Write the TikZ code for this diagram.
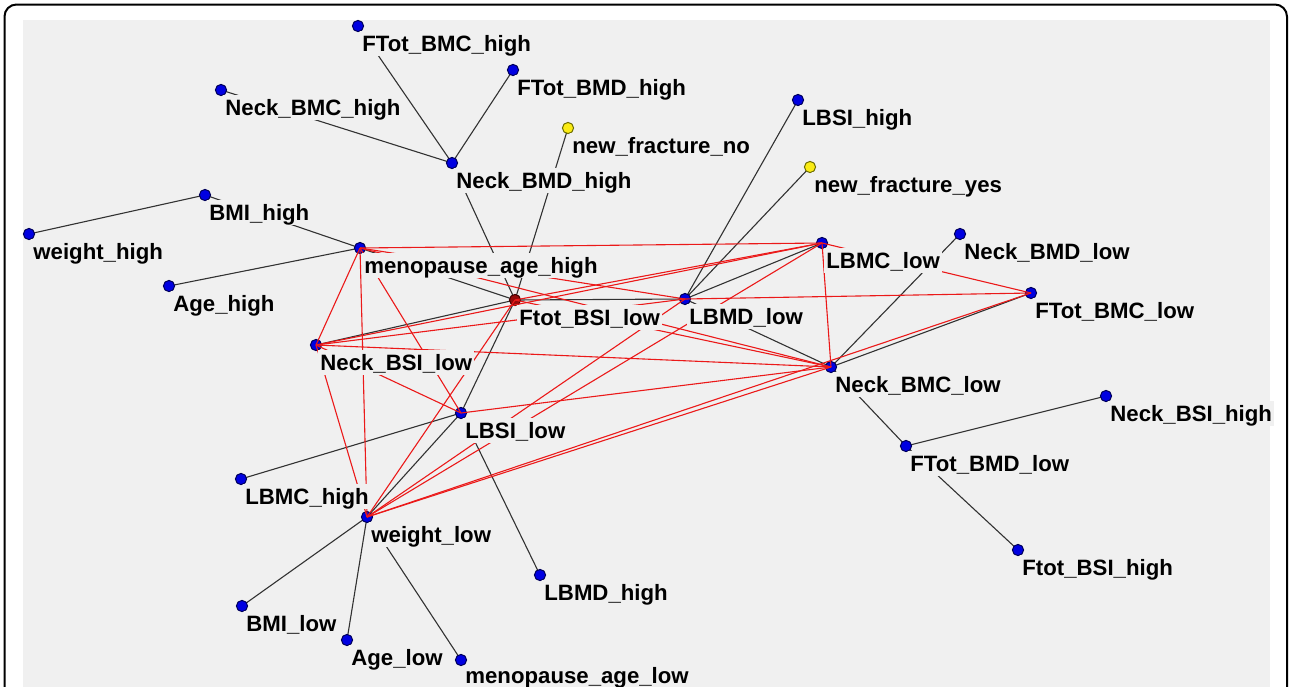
\documentclass[tikz,border=0pt]{standalone}
\usepackage{fontspec}
\setmainfont{Liberation Sans}
\pgfdeclarelayer{edges}
\pgfdeclarelayer{backdrop}
\pgfsetlayers{backdrop,edges,main}
\definecolor{bgray}{RGB}{240,240,240}
\begin{document}
\begin{tikzpicture}[x=0.5pt,y=-0.5pt,
  dot/.style={circle,inner sep=0pt,minimum size=5.6pt,line width=0.5pt,
    draw={rgb,255:red,0;green,0;blue,90},fill={rgb,255:red,0;green,0;blue,225}},
  ydot/.style={dot,draw={rgb,255:red,110;green,110;blue,0},fill={rgb,255:red,250;green,235;blue,20}},
  rdot/.style={dot,draw={rgb,255:red,70;green,0;blue,0},fill={rgb,255:red,150;green,10;blue,10}},
  lbl/.style={anchor=base west,fill=bgray,inner xsep=1pt,inner ysep=0pt,
    text height=10pt,text depth=2.4pt,font=\fontsize{11.1}{13}\selectfont\bfseries},
  blk/.style={draw={rgb,255:red,50;green,50;blue,50},line width=0.55pt},
  redge/.style={draw={rgb,255:red,235;green,25;blue,25},line width=0.55pt}]
\useasboundingbox (0,0) rectangle (1290,686);
\clip (0,0) rectangle (1290,686);

% frame and plotting area
\begin{pgfonlayer}{backdrop}
  \fill[white] (0,0) rectangle (1290,686);
  \draw[line width=1pt,rounded corners=6pt] (4.5,4.5) rectangle (1287,740);
  \fill[bgray] (23,20) rectangle (1270,700);
\end{pgfonlayer}

% vertices
\node[dot]  (ftbmch) at (358,26) {};
\node[dot]  (ftbmdh) at (513,70) {};
\node[dot]  (nbmch)  at (221,90) {};
\node[ydot] (nfno)   at (568,128) {};
\node[dot]  (nbmdh)  at (452,163) {};
\node[dot]  (lbsih)  at (798,100) {};
\node[ydot] (nfyes)  at (810,167) {};
\node[dot]  (bmih)   at (205,195) {};
\node[dot]  (wh)     at (29,234) {};
\node[dot]  (mah)    at (360,248) {};
\node[dot]  (ageh)   at (169,286) {};
\node[dot]  (nbsil)  at (316,345) {};
\node[rdot] (fbsil)  at (515,300) {};
\node[dot]  (lbmdl)  at (685,299) {};
\node[dot]  (lbmcl)  at (822,243) {};
\node[dot]  (nbmdl)  at (960,234) {};
\node[dot]  (ftbmcl) at (1031,293) {};
\node[dot]  (nbmcl)  at (831,367) {};
\node[dot]  (lbsil)  at (461,413) {};
\node[dot]  (nbsih)  at (1106,396) {};
\node[dot]  (ftbmdl) at (906,446) {};
\node[dot]  (lbmch)  at (241,479) {};
\node[dot]  (wl)     at (367,517) {};
\node[dot]  (lbmdh)  at (540,575) {};
\node[dot]  (fbsih)  at (1018,550) {};
\node[dot]  (bmil)   at (242,606) {};
\node[dot]  (agel)   at (347,640) {};
\node[dot]  (mal)    at (461,660) {};

% black edges, behind the vertices
\begin{pgfonlayer}{edges}
\foreach \a/\b in {ftbmch/nbmdh, ftbmdh/nbmdh, nbmch/nbmdh, nbmdh/fbsil, nfno/fbsil,
  bmih/wh, bmih/mah, ageh/mah, mah/fbsil, nbsil/fbsil, fbsil/lbmdl, fbsil/lbsil,
  lbsil/wl, lbmch/lbsil, lbsil/lbmdh, lbsih/lbmdl, nfyes/lbmdl, lbmdl/lbmcl,
  lbmdl/nbmcl, nbmdl/nbmcl, nbmcl/ftbmcl, nbmcl/ftbmdl, ftbmdl/nbsih, ftbmdl/fbsih,
  wl/bmil, wl/agel, wl/mal}
  \draw[blk] (\a.center) -- (\b.center);
\end{pgfonlayer}

% red edges, drawn across the vertices
\foreach \a/\b in {mah/lbmcl, mah/nbsil, mah/wl, mah/lbsil, mah/nbmcl, mah/lbmdl,
  nbsil/lbmcl, nbsil/lbmdl, nbsil/nbmcl, nbsil/lbsil, nbsil/wl,
  fbsil/lbmcl, fbsil/nbmcl, fbsil/wl, lbmdl/ftbmcl, lbmdl/wl, lbmcl/wl,
  lbmcl/nbmcl, lbmcl/ftbmcl, lbsil/nbmcl, wl/nbmcl, wl/ftbmcl}
  \draw[redge] (\a.center) -- (\b.center);

% labels, masking the edges beneath them
\foreach \n/\t in {ftbmch/FTot\_BMC\_high, ftbmdh/FTot\_BMD\_high, nbmch/Neck\_BMC\_high,
  nfno/new\_fracture\_no, nbmdh/Neck\_BMD\_high, lbsih/LBSI\_high,
  nfyes/new\_fracture\_yes, bmih/BMI\_high, wh/weight\_high,
  mah/menopause\_age\_high, ageh/Age\_high, nbsil/Neck\_BSI\_low,
  fbsil/Ftot\_BSI\_low, lbmdl/LBMD\_low, lbmcl/LBMC\_low, nbmdl/Neck\_BMD\_low,
  ftbmcl/FTot\_BMC\_low, nbmcl/Neck\_BMC\_low, lbsil/LBSI\_low,
  nbsih/Neck\_BSI\_high, ftbmdl/FTot\_BMD\_low, lbmch/LBMC\_high,
  wl/weight\_low, lbmdh/LBMD\_high, fbsih/Ftot\_BSI\_high, bmil/BMI\_low,
  agel/Age\_low}
  \node[lbl] at ([shift={(2,25)}]\n.center) {\t};
\node[lbl,text height=8.2pt] at ([shift={(2,23)}]mal.center) {menopause\_age\_low};
\end{tikzpicture}
\end{document}
